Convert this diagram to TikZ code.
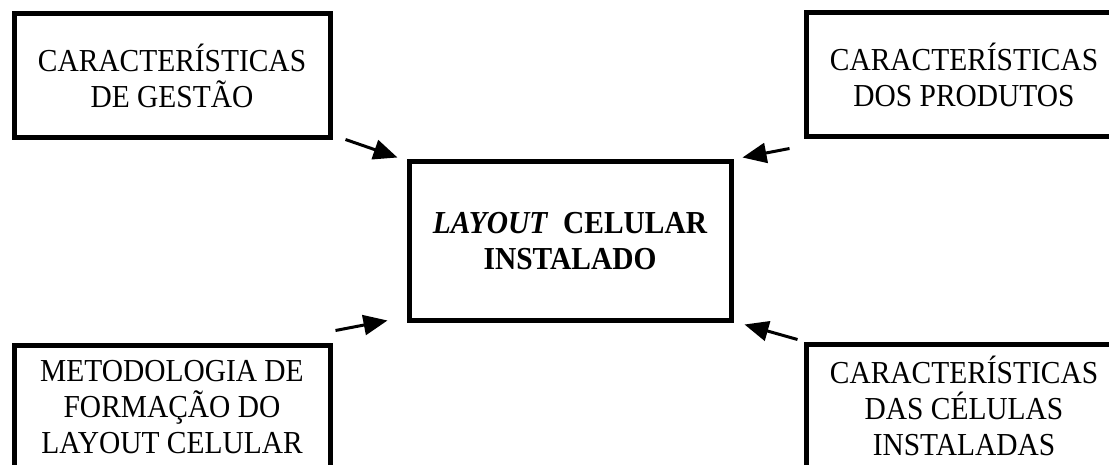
\documentclass[tikz,border=0pt]{standalone}
\usepackage{fontspec}
\setmainfont{Liberation Serif}[FakeStretch=0.92]
\usepackage[usenames,svgnames]{xcolor}
\usepackage{tikz}
\usetikzlibrary{positioning,arrows.meta}
\definecolor{colorborda}    {RGB}{0,0,0}
\definecolor{colortexto}    {RGB}{0,0,0}

\begin{document}
\begin{tikzpicture}[
    x=0.5pt, y=-0.5pt,
    font={\fontsize{16}{18}\selectfont},
    caixa/.style={draw=colorborda,text=colortexto,line width=2.5pt,
        minimum width=158pt,minimum height=62pt,align=center,inner sep=0pt},
    central/.style={caixa,minimum width=161pt,minimum height=79pt,
        font={\fontsize{16}{18}\selectfont\bfseries}},
    seta/.style={draw=colorborda,line width=1.5pt,
        -{Triangle[length=12pt,width=10pt]}},
]

    \useasboundingbox (0,0) rectangle (1109,465);

    \node[central] (layout) at (570,241) {\textit{LAYOUT}\ \ CELULAR\\INSTALADO};

    \node[caixa] (gestao) at (172,76) {CARACTERÍSTICAS\\DE GESTÃO};
    \node[caixa] (produtos) at (964,75) {CARACTERÍSTICAS\\DOS PRODUTOS};
    \node[caixa] (metodologia) at (172,407) {METODOLOGIA DE\\FORMAÇÃO DO\\LAYOUT CELULAR};
    \node[caixa] (celulas) at (964,406) {CARACTERÍSTICAS\\DAS CÉLULAS\\INSTALADAS};

    \draw[seta] ([shift={(13,-1)}]gestao.south east) -- ([shift={(-9,-2)}]layout.north west);
    \draw[seta] ([shift={(-14,9)}]produtos.south west) -- ([shift={(9,-2)}]layout.north east);
    \draw[seta] ([shift={(3,-12)}]metodologia.north east) -- ([shift={(-19,-2)}]layout.south west);
    \draw[seta] ([shift={(-6,-2)}]celulas.north west) -- ([shift={(11,2)}]layout.south east);

\end{tikzpicture}
\end{document}
